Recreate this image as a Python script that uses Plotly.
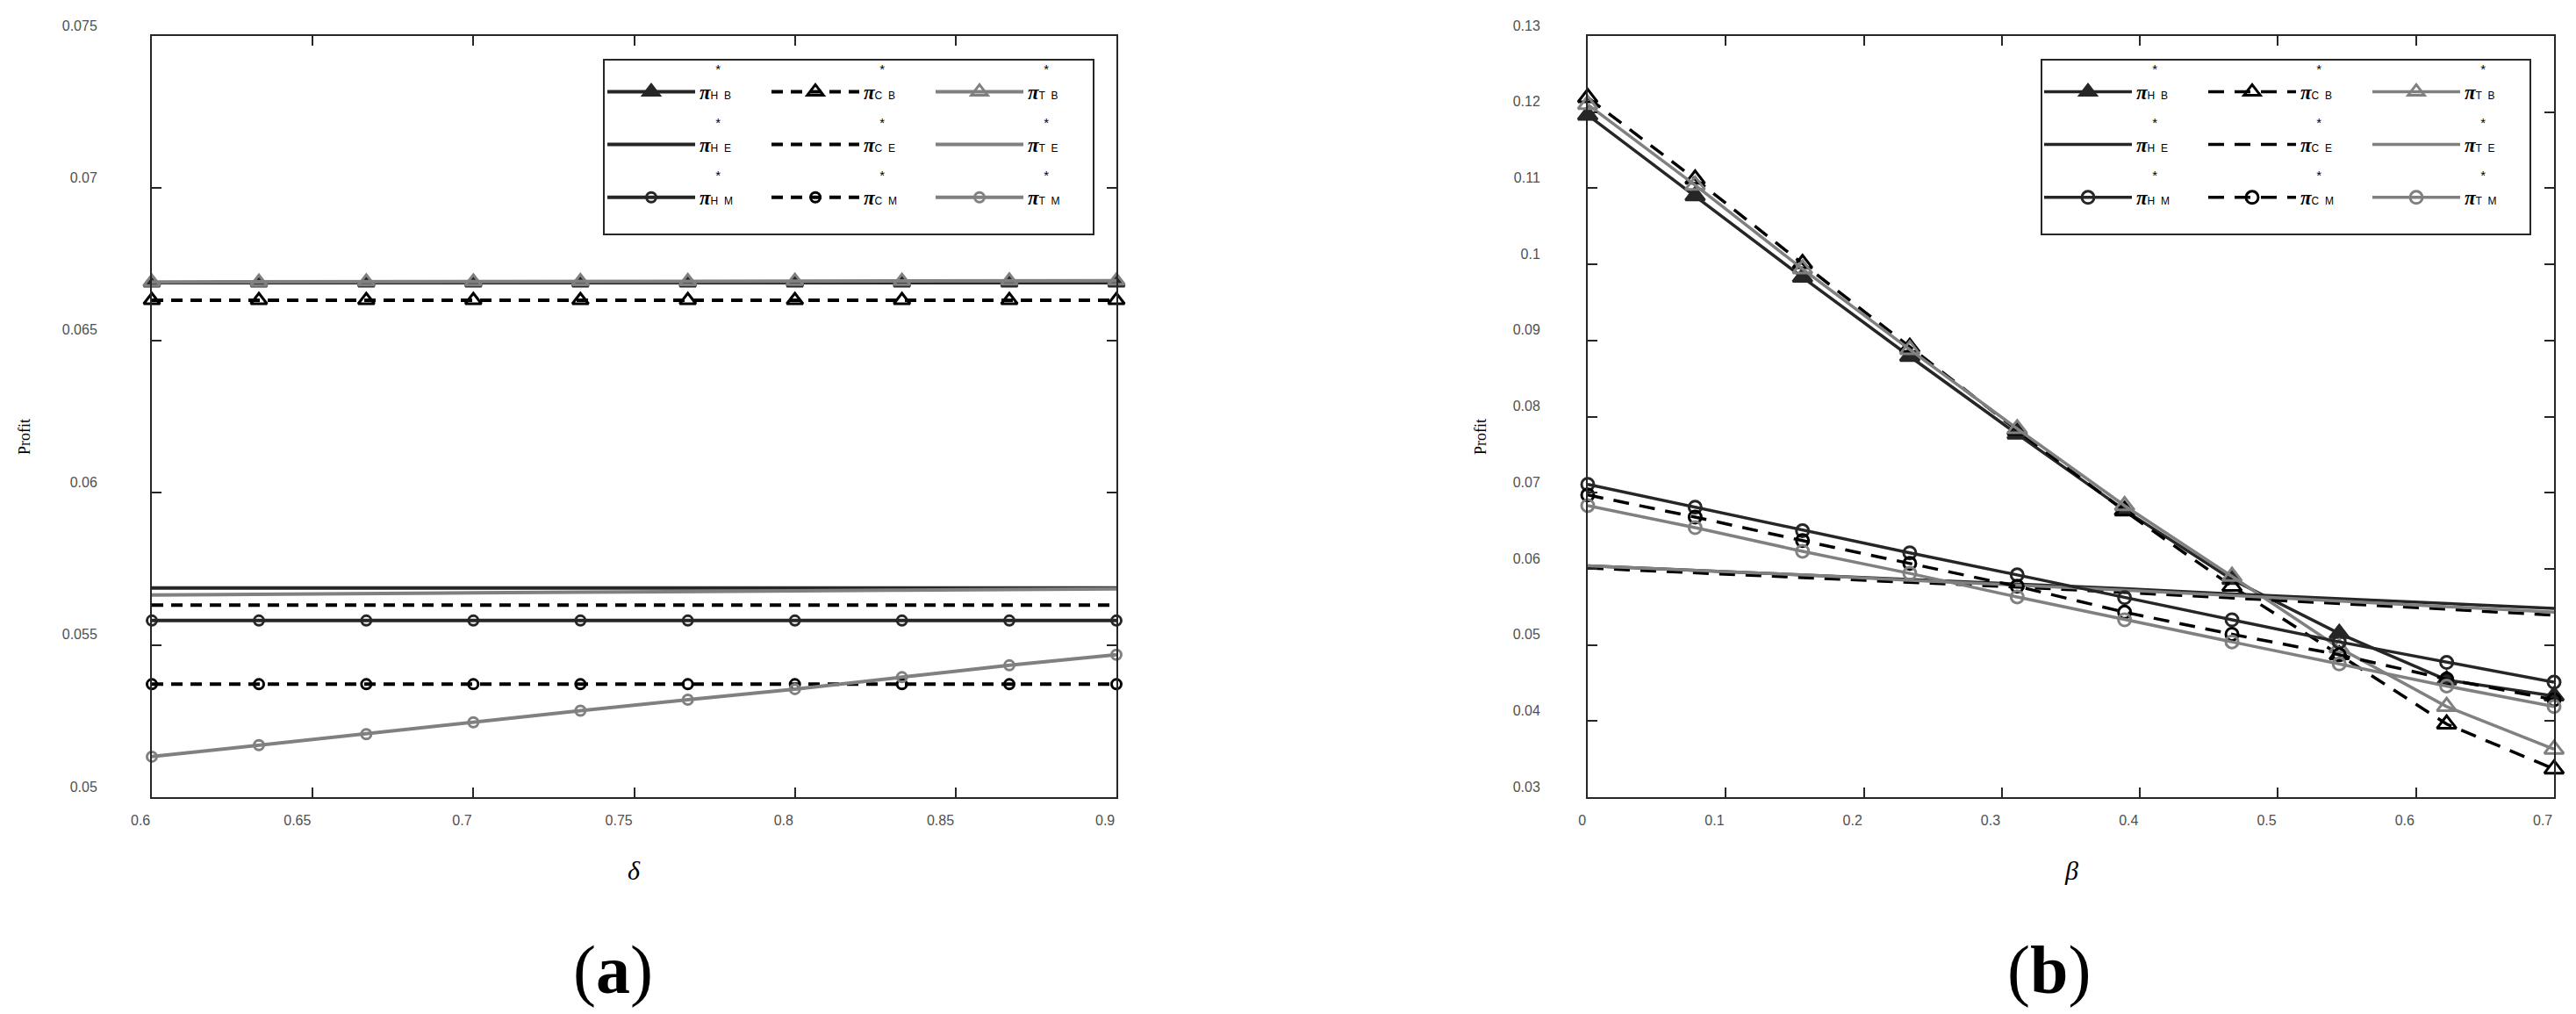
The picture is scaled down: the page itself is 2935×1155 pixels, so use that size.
import plotly.graph_objects as go

# ---------------- data ----------------
delta = [0.6, 0.6333, 0.6667, 0.7, 0.7333, 0.7667, 0.8, 0.8333, 0.8667, 0.9]
beta = [0.0, 0.0778, 0.1556, 0.2333, 0.3111, 0.3889, 0.4667, 0.5444, 0.6222, 0.7]

a_HB = [0.06690, 0.06690, 0.06690, 0.06690, 0.06690, 0.06690, 0.06690, 0.06690, 0.06690, 0.06690]
a_CB = [0.06632, 0.06632, 0.06632, 0.06632, 0.06632, 0.06632, 0.06632, 0.06632, 0.06632, 0.06632]
a_TB = [0.06692, 0.06692, 0.06693, 0.06693, 0.06694, 0.06694, 0.06695, 0.06695, 0.06696, 0.06696]
a_HE = [0.05687, 0.05687, 0.05687, 0.05687, 0.05687, 0.05687, 0.05687, 0.05687, 0.05687, 0.05687]
a_CE = [0.05631, 0.05631, 0.05631, 0.05631, 0.05631, 0.05631, 0.05631, 0.05631, 0.05631, 0.05631]
a_TE = [0.05664, 0.05667, 0.05669, 0.05671, 0.05673, 0.05676, 0.05678, 0.05680, 0.05682, 0.05684]
a_HM = [0.05580, 0.05580, 0.05580, 0.05580, 0.05580, 0.05580, 0.05580, 0.05580, 0.05580, 0.05580]
a_CM = [0.05371, 0.05371, 0.05371, 0.05371, 0.05371, 0.05371, 0.05371, 0.05371, 0.05371, 0.05371]
a_TM = [0.05133, 0.05171, 0.05207, 0.05246, 0.05284, 0.05320, 0.05355, 0.05394, 0.05433, 0.05468]

b_HB = [0.1196, 0.1090, 0.0983, 0.0879, 0.0777, 0.0677, 0.0586, 0.0515, 0.0454, 0.0433]
b_CB = [0.1219, 0.1112, 0.1001, 0.0891, 0.0782, 0.0676, 0.0577, 0.0487, 0.0396, 0.0337]
b_TB = [0.1210, 0.1104, 0.0994, 0.0888, 0.0784, 0.0683, 0.0590, 0.0496, 0.0419, 0.0363]
b_HE = [0.0604, 0.0598, 0.0592, 0.0586, 0.0580, 0.0574, 0.0567, 0.0561, 0.0555, 0.0548]
b_CE = [0.0601, 0.0595, 0.0589, 0.0582, 0.0576, 0.0569, 0.0562, 0.0555, 0.0547, 0.0539]
b_TE = [0.0604, 0.0598, 0.0592, 0.0585, 0.0579, 0.0572, 0.0565, 0.0558, 0.0551, 0.0543]
b_HM = [0.0711, 0.0681, 0.0650, 0.0621, 0.0592, 0.0562, 0.0533, 0.0504, 0.0477, 0.0451]
b_CM = [0.0697, 0.0668, 0.0637, 0.0607, 0.0577, 0.0543, 0.0514, 0.0487, 0.0455, 0.0428]
b_TM = [0.0683, 0.0654, 0.0623, 0.0594, 0.0563, 0.0533, 0.0504, 0.0475, 0.0446, 0.0419]

a_xticks = [0.6, 0.65, 0.7, 0.75, 0.8, 0.85, 0.9]
a_xticktext = ["0.6", "0.65", "0.7", "0.75", "0.8", "0.85", "0.9"]
a_yticks = [0.05, 0.055, 0.06, 0.065, 0.07, 0.075]
a_yticktext = ["0.05", "0.055", "0.06", "0.065", "0.07", "0.075"]
b_xticks = [0, 0.1, 0.2, 0.3, 0.4, 0.5, 0.6, 0.7]
b_xticktext = ["0", "0.1", "0.2", "0.3", "0.4", "0.5", "0.6", "0.7"]
b_yticks = [0.03, 0.04, 0.05, 0.06, 0.07, 0.08, 0.09, 0.1, 0.11, 0.12, 0.13]
b_yticktext = ["0.03", "0.04", "0.05", "0.06", "0.07", "0.08", "0.09", "0.1", "0.11", "0.12", "0.13"]

series_keys = ["HB", "CB", "TB", "HE", "CE", "TE", "HM", "CM", "TM"]
panel_a = {"HB": a_HB, "CB": a_CB, "TB": a_TB, "HE": a_HE, "CE": a_CE, "TE": a_TE,
           "HM": a_HM, "CM": a_CM, "TM": a_TM}
panel_b = {"HB": b_HB, "CB": b_CB, "TB": b_TB, "HE": b_HE, "CE": b_CE, "TE": b_TE,
           "HM": b_HM, "CM": b_CM, "TM": b_TM}

# ---------------- styles ----------------
DARK = "#262626"
BLACK = "#000000"
GRAY = "#808080"
color_of = {"H": DARK, "C": BLACK, "T": GRAY}
col_of = {"H": 0, "C": 1, "T": 2}

W, H = 2935, 1155
ML, MR, MT, MB = 165, 33, 33, 255
PW, PH = W - ML - MR, H - MT - MB


def px2x(px):
    return (px - ML) / PW


def px2y(py):
    return (H - MB - py) / PH


A_L, A_R = 165, 1264
B_L, B_R = 1801, 2902


def label(k):
    firm, kind = k[0], k[1]
    sp = "&nbsp;" * 3
    return (sp + "<span style='font-size:15px'>*</span><br>"
            + "<span style='font-family:Liberation Serif;font-size:23px'><b><i>π</i></b></span>"
            + "<span style='font-size:12px'>" + firm + "&nbsp;&nbsp;" + kind + "</span>")


fig = go.Figure()

panels = [
    (delta, panel_a, "x", "y", 0, 4.0, 16, 11, "13px,9px"),
    (beta, panel_b, "x2", "y2", 3, 3.5, 19, 14, "18px,12px"),
]
gi = 0
for xs, data, xa, ya, legoff, lw, tri_size, circ_size, dpat in panels:
    for k in series_keys:
        gi += 1
        firm, kind = k[0], k[1]
        color = color_of[firm]
        mode = "lines+markers" if kind in ("B", "M") else "lines"
        if kind == "B":
            sym = "triangle-up" if firm == "H" else "triangle-up-open"
            msize = tri_size
        else:
            sym = "circle-open"
            msize = circ_size
        li = col_of[firm] + 1 + legoff
        fig.add_trace(go.Scatter(
            x=xs, y=data[k], xaxis=xa, yaxis=ya, mode=mode, name=label(k),
            line=dict(color=color, width=lw, dash=dpat if firm == "C" else "solid"),
            marker=dict(symbol=sym, size=msize, color=color, line=dict(color=color, width=3)),
            cliponaxis=False, legendgroup="g%d" % gi,
            legend="legend" if li == 1 else "legend%d" % li,
        ))

axis_common = dict(
    showgrid=False, zeroline=False, showline=True, linecolor=DARK, linewidth=2,
    mirror="ticks", ticks="inside", ticklen=11, tickwidth=1.5, tickcolor=DARK,
    tickfont=dict(family="Liberation Sans", size=16, color="#505050"),
)

fig.update_layout(
    width=W, height=H,
    margin=dict(l=ML, r=MR, t=MT, b=MB, pad=0),
    paper_bgcolor="white", plot_bgcolor="white",
    font=dict(family="Liberation Sans", color="black"),
    xaxis=dict(axis_common, domain=[px2x(A_L), px2x(A_R)], range=[0.6, 0.9],
               tickvals=a_xticks, ticktext=a_xticktext, anchor="y",
               ticklabelposition="outside left", ticklabelstandoff=11),
    yaxis=dict(axis_common, domain=[0, 1], range=[0.05, 0.075],
               tickvals=a_yticks, ticktext=a_yticktext, anchor="x",
               ticklabelposition="outside top", ticklabelstandoff=57),
    xaxis2=dict(axis_common, domain=[px2x(B_L), px2x(B_R)], range=[0, 0.7],
                tickvals=b_xticks, ticktext=b_xticktext, anchor="y2",
                ticklabelposition="outside left", ticklabelstandoff=11),
    yaxis2=dict(axis_common, domain=[0, 1], range=[0.03, 0.13],
                tickvals=b_yticks, ticktext=b_yticktext, anchor="x2",
                ticklabelposition="outside top", ticklabelstandoff=49),
)

# legends: three columns per panel
col_px = [[690, 877, 1064], [2327, 2514, 2701]]
for p in range(2):
    for c in range(3):
        li = p * 3 + c + 1
        key = "legend" if li == 1 else "legend%d" % li
        fig.update_layout({key: dict(
            x=px2x(col_px[p][c] - 11), y=px2y(47), xanchor="left", yanchor="top",
            xref="paper", yref="paper",
            bgcolor="rgba(0,0,0,0)", borderwidth=0, itemwidth=100,
            font=dict(family="Liberation Sans", size=22, color="black"),
            traceorder="normal", itemclick=False, itemdoubleclick=False,
            valign="bottom", tracegroupgap=3,
        )})

# legend boxes
for xr, yr, x0, x1, L, R in [("x domain", "y domain", 680, 1238, A_L, A_R),
                             ("x2 domain", "y2 domain", 2318, 2875, B_L, B_R)]:
    fig.add_shape(type="rect", xref=xr, yref=yr,
                  x0=(x0 - L) / (R - L), x1=(x1 - L) / (R - L),
                  y0=(900 - 259) / PH, y1=(900 - 60) / PH,
                  line=dict(color=DARK, width=2), fillcolor="rgba(0,0,0,0)", layer="above")

# axis titles and panel labels
for xr, yr, L, R, sym, tag, prof_px, tag_px in [
        ("x domain", "y domain", A_L, A_R, "δ", "(<b>a</b>)", 20, 690),
        ("x2 domain", "y2 domain", B_L, B_R, "β", "(<b>b</b>)", 1679, 2326)]:
    fig.add_annotation(text="Profit", xref=xr, yref=yr, x=(prof_px - L) / (R - L),
                       y=(900 - 490) / PH, textangle=-90, showarrow=False,
                       xanchor="center", yanchor="middle",
                       font=dict(family="Liberation Serif", size=18, color="black"))
    fig.add_annotation(text="<i>" + sym + "</i>", xref=xr, yref=yr, x=0.5, y=(900 - 983) / PH,
                       showarrow=False, xanchor="center", yanchor="middle",
                       font=dict(family="Liberation Serif", size=30, color="black"))
    fig.add_annotation(text=tag, xref=xr, yref=yr, x=(tag_px - L) / (R - L), y=(900 - 1096) / PH,
                       showarrow=False, xanchor="center", yanchor="middle",
                       font=dict(family="Liberation Serif", size=78, color="black"))

fig.write_html("out.html")
